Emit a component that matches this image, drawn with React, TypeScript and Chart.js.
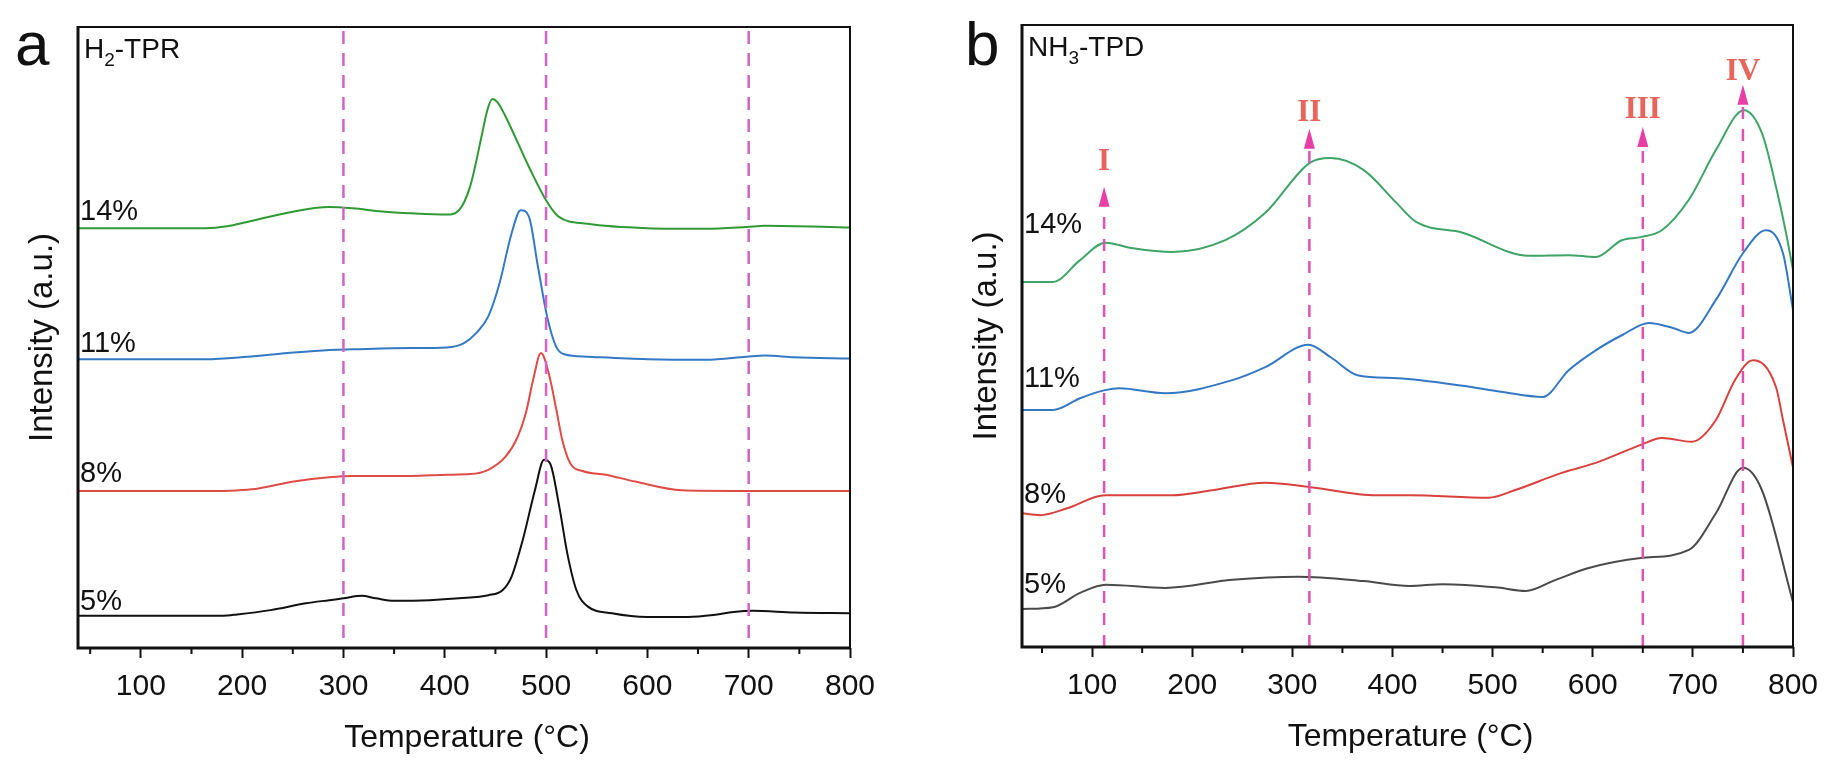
import { useEffect, useRef } from "react";
import { Chart, registerables } from "chart.js";

Chart.register(...registerables);

const SANS = "'Liberation Sans', Arial, sans-serif";
const SERIF = "'Liberation Serif', 'Times New Roman', serif";

// temperature axis (°C)
const tickTemps = [100, 200, 300, 400, 500, 600, 700, 800];
const minorTemps = [50, 150, 250, 350, 450, 550, 650, 750];
const loadings = ["14%", "11%", "8%", "5%"];

// ---------- a: H2-TPR ----------
const tprT14 = [38, 164, 185, 205, 245, 286, 309, 338, 367, 402, 414, 425, 437, 442, 447, 452, 460, 483, 500, 512, 541, 600, 658, 698, 716, 800];
const tprI14 = [67.6, 67.6, 67.9, 68.6, 70.1, 71.0, 70.8, 70.3, 70.0, 69.8, 70.5, 74.3, 82.9, 86.6, 88.4, 87.9, 85.6, 77.5, 72.1, 69.5, 68.3, 67.6, 67.5, 67.8, 68.0, 67.7];
const tprT11 = [38, 164, 205, 245, 286, 309, 367, 402, 419, 431, 443, 454, 466, 475, 483, 492, 501, 510, 518, 541, 600, 658, 698, 716, 745, 800];
const tprI11 = [46.5, 46.5, 46.9, 47.5, 48.0, 48.1, 48.3, 48.4, 49.1, 50.7, 53.4, 58.7, 66.8, 70.5, 69.5, 61.4, 53.4, 48.5, 47.3, 46.9, 46.5, 46.4, 46.9, 47.1, 46.8, 46.6];
const tprT8 = [38, 181, 200, 216, 251, 286, 309, 367, 402, 425, 443, 460, 472, 480, 487, 495, 503, 510, 516, 524, 536, 559, 588, 634, 686, 800];
const tprI8 = [25.3, 25.3, 25.45, 25.7, 26.8, 27.5, 27.7, 27.7, 27.9, 28.0, 28.7, 30.8, 34.0, 37.8, 43.0, 47.5, 44.0, 38.5, 33.5, 29.7, 28.5, 27.9, 26.8, 25.4, 25.3, 25.3];
const tprT5 = [38, 181, 195, 228, 263, 286, 300, 318, 332, 350, 385, 414, 443, 457, 466, 477, 489, 498, 504, 513, 521, 530, 541, 565, 600, 640, 665, 685, 704, 745, 800];
const tprI5 = [5.2, 5.2, 5.4, 6.1, 7.2, 7.7, 8.0, 8.4, 8.0, 7.6, 7.7, 8.0, 8.5, 9.3, 11.5, 17.4, 25.4, 30.3, 29.7, 22.8, 15.2, 9.3, 6.7, 5.6, 5.0, 5.0, 5.3, 5.8, 6.0, 5.7, 5.6];
const tprLabelAt = [68.9, 47.7, 26.7, 6.1];
const tprGuides = [300, 500, 700];

// ---------- b: NH3-TPD ----------
const tpdT14 = [30, 61, 88, 113, 141, 180, 233, 273, 317, 338, 371, 404, 424, 470, 536, 576, 603, 629, 648, 669, 696, 723, 751, 769, 783, 793, 800];
const tpdI14 = [58.7, 58.7, 62.2, 65.0, 64.1, 63.5, 65.4, 69.8, 77.8, 78.6, 76.7, 71.4, 68.3, 66.6, 62.9, 63.0, 62.7, 65.4, 65.9, 67.0, 71.9, 79.9, 86.3, 82.6, 74.0, 66.6, 60.6];
const tpdT11 = [30, 61, 88, 113, 127, 173, 240, 273, 316, 339, 365, 405, 470, 510, 550, 576, 603, 630, 656, 680, 696, 723, 750, 773, 790, 800];
const tpdI11 = [38.1, 38.1, 40.0, 41.3, 41.6, 40.8, 42.9, 45.0, 48.6, 46.5, 43.7, 43.2, 42.0, 41.0, 40.2, 44.5, 47.7, 50.2, 52.1, 51.3, 50.5, 55.8, 63.3, 67.0, 63.3, 54.2];
const tpdT8 = [30, 48, 75, 113, 127, 180, 220, 273, 318, 384, 417, 496, 522, 569, 603, 648, 669, 699, 723, 742, 760, 783, 790, 800];
const tpdI8 = [21.5, 21.2, 22.3, 24.4, 24.4, 24.4, 25.2, 26.4, 25.7, 24.4, 24.4, 24.0, 25.2, 28.0, 29.6, 32.5, 33.6, 33.0, 36.5, 42.9, 46.1, 41.8, 36.5, 28.9];
const tpdT5 = [30, 61, 88, 114, 173, 240, 306, 371, 417, 450, 503, 533, 563, 596, 648, 696, 723, 750, 769, 800];
const tpdI5 = [6.1, 6.4, 8.7, 10.0, 9.5, 10.8, 11.3, 10.6, 9.8, 10.1, 9.6, 9.0, 10.8, 12.7, 14.3, 15.6, 21.5, 28.8, 25.2, 7.2];
const tpdLabelAt = [66.6, 41.8, 23.2, 8.7];
const tpdPeakTemps = [112, 317, 650, 750];
const tpdPeakNames = ["I", "II", "III", "IV"];
const tpdArrowTip = [74.0, 83.3, 83.6, 90.4];
const tpdNameAt = [76.7, 84.6, 85.0, 91.2];

type Curve = { temps: number[]; vals: number[]; color: string };

type PanelSpec = {
  id: string;
  left: number;
  width: number;
  height: number;
  pad: { left: number; right: number; top: number };
  axisY: number;
  xMin: number;
  letter: string;
  letterX: number;
  gas: [string, string, string];
  curves: Curve[];
  labelAt: number[];
  mode: "tpr" | "tpd";
};

const tprSpec: PanelSpec = {
  id: "a",
  left: 0,
  width: 920,
  height: 777,
  pad: { left: 78, right: 70, top: 27 },
  axisY: 648,
  xMin: 38,
  letter: "a",
  letterX: 15,
  gas: ["H", "2", "-TPR"],
  curves: [
    { temps: tprT14, vals: tprI14, color: "#2f9a34" },
    { temps: tprT11, vals: tprI11, color: "#3479c6" },
    { temps: tprT8, vals: tprI8, color: "#df4b47" },
    { temps: tprT5, vals: tprI5, color: "#111111" },
  ],
  labelAt: tprLabelAt,
  mode: "tpr",
};

const tpdSpec: PanelSpec = {
  id: "b",
  left: 920,
  width: 921,
  height: 777,
  pad: { left: 102, right: 48, top: 25 },
  axisY: 647,
  xMin: 30,
  letter: "b",
  letterX: 45,
  gas: ["NH", "3", "-TPD"],
  curves: [
    { temps: tpdT14, vals: tpdI14, color: "#3fa467" },
    { temps: tpdT11, vals: tpdI11, color: "#3478c4" },
    { temps: tpdT8, vals: tpdI8, color: "#d9413d" },
    { temps: tpdT5, vals: tpdI5, color: "#4a4a4a" },
  ],
  labelAt: tpdLabelAt,
  mode: "tpd",
};

function decorPlugin(spec: PanelSpec) {
  return {
    id: "decor-" + spec.id,
    afterDatasetsDraw(chart: any) {
      const { ctx, chartArea: a, scales } = chart;
      const x = scales.x;
      const y = scales.y;
      ctx.save();
      if (spec.mode === "tpr") {
        ctx.strokeStyle = "#d264c8";
        ctx.lineWidth = 2.5;
        ctx.setLineDash([13, 9]);
        tprGuides.forEach((t) => {
          const px = x.getPixelForValue(t);
          ctx.beginPath();
          ctx.moveTo(px, a.top + 4);
          ctx.lineTo(px, a.bottom);
          ctx.stroke();
        });
      } else {
        tpdPeakTemps.forEach((t, i) => {
          const px = x.getPixelForValue(t);
          const tip = y.getPixelForValue(tpdArrowTip[i]);
          const base = tip + 20;
          ctx.strokeStyle = "#e052b2";
          ctx.lineWidth = 2.5;
          ctx.setLineDash([12, 10]);
          ctx.beginPath();
          ctx.moveTo(px, a.bottom);
          ctx.lineTo(px, base);
          ctx.stroke();
          ctx.setLineDash([]);
          ctx.fillStyle = "#e83fa6";
          ctx.beginPath();
          ctx.moveTo(px, tip);
          ctx.lineTo(px - 5.5, base);
          ctx.lineTo(px + 5.5, base);
          ctx.closePath();
          ctx.fill();
          ctx.fillStyle = "#e6655c";
          ctx.font = `bold 31px ${SERIF}`;
          ctx.textAlign = "center";
          ctx.textBaseline = "alphabetic";
          ctx.fillText(tpdPeakNames[i], px, y.getPixelForValue(tpdNameAt[i]));
        });
      }
      ctx.restore();
    },
    afterDraw(chart: any) {
      const { ctx, chartArea: a, scales } = chart;
      const x = scales.x;
      const y = scales.y;
      ctx.save();
      ctx.setLineDash([]);
      ctx.strokeStyle = "#111";
      // frame
      ctx.lineWidth = 2;
      ctx.beginPath();
      ctx.moveTo(a.left, a.top);
      ctx.lineTo(a.right, a.top);
      ctx.lineTo(a.right, a.bottom);
      ctx.stroke();
      ctx.lineWidth = 3;
      ctx.beginPath();
      ctx.moveTo(a.left, a.top - 1);
      ctx.lineTo(a.left, a.bottom);
      ctx.lineTo(a.right + 1, a.bottom);
      ctx.stroke();
      // minor ticks
      ctx.lineWidth = 2;
      minorTemps.forEach((t) => {
        if (t < x.min) return;
        const px = x.getPixelForValue(t);
        ctx.beginPath();
        ctx.moveTo(px, a.bottom);
        ctx.lineTo(px, a.bottom + 6);
        ctx.stroke();
      });
      ctx.fillStyle = "#111";
      // loading labels
      ctx.font = `29px ${SANS}`;
      ctx.textAlign = "left";
      ctx.textBaseline = "alphabetic";
      loadings.forEach((s, i) => {
        ctx.fillText(s, a.left + 2, y.getPixelForValue(spec.labelAt[i]));
      });
      // panel letter
      ctx.font = `62px ${SANS}`;
      ctx.fillText(spec.letter, spec.letterX, 65);
      // gas formula with subscript
      const gx = a.left + 6;
      const gy = a.top + 31;
      ctx.font = `28px ${SANS}`;
      ctx.fillText(spec.gas[0], gx, gy);
      let cx = gx + ctx.measureText(spec.gas[0]).width;
      ctx.font = `19px ${SANS}`;
      ctx.fillText(spec.gas[1], cx, gy + 8);
      cx += ctx.measureText(spec.gas[1]).width;
      ctx.font = `28px ${SANS}`;
      ctx.fillText(spec.gas[2], cx, gy);
      // axis titles
      ctx.font = `32px ${SANS}`;
      ctx.textAlign = "center";
      ctx.fillText("Temperature (°C)", (a.left + a.right) / 2 + 3, a.bottom + 99);
      ctx.translate(a.left - 35, (a.top + a.bottom) / 2);
      ctx.rotate(-Math.PI / 2);
      ctx.textBaseline = "middle";
      ctx.font = `33px ${SANS}`;
      ctx.fillText("Intensity (a.u.)", 0, 0);
      ctx.restore();
    },
  };
}

function buildConfig(spec: PanelSpec): any {
  return {
    type: "line",
    data: {
      datasets: spec.curves.map((c, i) => ({
        label: loadings[i],
        data: c.temps.map((t, j) => ({ x: t, y: c.vals[j] })),
        borderColor: c.color,
        borderWidth: 2,
        pointRadius: 0,
        fill: false,
        cubicInterpolationMode: "monotone",
      })),
    },
    options: {
      animation: false,
      responsive: true,
      maintainAspectRatio: false,
      events: [],
      layout: { padding: { left: spec.pad.left, right: spec.pad.right, top: spec.pad.top, bottom: 0 } },
      plugins: { legend: { display: false }, tooltip: { enabled: false } },
      scales: {
        x: {
          type: "linear",
          min: spec.xMin,
          max: 800,
          afterBuildTicks: (s: any) => {
            s.ticks = tickTemps.map((v) => ({ value: v }));
          },
          afterFit: (s: any) => {
            s.height = spec.height - spec.axisY;
          },
          border: { display: false },
          grid: {
            drawOnChartArea: false,
            drawTicks: true,
            tickLength: 10,
            tickWidth: 2,
            tickColor: "#111",
          },
          ticks: {
            autoSkip: false,
            maxRotation: 0,
            padding: 11,
            color: "#111",
            font: { family: SANS, size: 30 },
          },
        },
        y: { display: false, min: 0, max: 100 },
      },
    },
    plugins: [decorPlugin(spec)],
  };
}

function ChartPanel({ spec }: { spec: PanelSpec }) {
  const canvasRef = useRef<HTMLCanvasElement | null>(null);

  useEffect(() => {
    if (!canvasRef.current) return;
    const chart = new Chart(canvasRef.current, buildConfig(spec));
    return () => {
      chart.destroy();
    };
  }, [spec]);

  return (
    <div style={{ position: "absolute", left: spec.left, top: 0, width: spec.width, height: spec.height }}>
      <canvas ref={canvasRef}></canvas>
    </div>
  );
}

export default function App() {
  return (
    <div style={{ position: "absolute", left: 0, top: 0, width: 1841, height: 777, background: "#fff" }}>
      <ChartPanel spec={tprSpec} />
      <ChartPanel spec={tpdSpec} />
    </div>
  );
}
